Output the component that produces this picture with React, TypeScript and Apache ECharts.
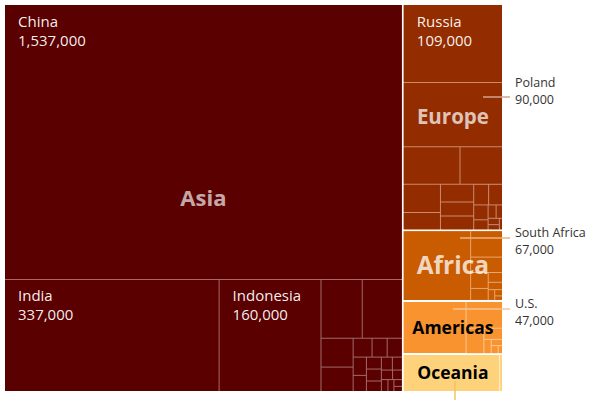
import { useEffect, useRef } from 'react'
import * as echarts from 'echarts'

// Coal mine workers by country, grouped by continent
const asiaCountries = ['China', 'India', 'Indonesia', 'Kazakhstan', 'Vietnam', 'Turkey', 'Mongolia', 'Pakistan', 'Uzbekistan', 'Bangladesh', 'Philippines', 'Kyrgyzstan', 'Thailand', 'Japan', 'Laos', 'Iran', 'Tajikistan', 'South Korea', 'Myanmar', 'Malaysia', 'Afghanistan', 'Georgia', 'Nepal']
const asiaWorkers = [1537000, 337000, 160000, 34000, 33000, 13000, 11000, 5000, 4000, 4000, 3400, 3000, 2500, 2500, 2200, 2000, 1800, 1500, 1300, 1100, 1000, 800, 600]

const europeCountries = ['Russia', 'Poland', 'Ukraine', 'Germany', 'Czechia', 'Serbia', 'Bosnia and Herzegovina', 'Romania', 'Bulgaria', 'Greece', 'Kosovo', 'Hungary', 'Slovakia', 'North Macedonia', 'Montenegro', 'Spain', 'United Kingdom', 'Slovenia']
const europeWorkers = [109000, 90000, 30000, 22500, 14700, 8900, 8200, 6500, 6400, 4300, 4000, 3000, 2000, 1500, 1200, 1000, 800, 500]

const africaCountries = ['South Africa', 'Zimbabwe', 'Mozambique', 'Botswana', 'Tanzania', 'Nigeria', 'Zambia', 'Madagascar', 'Malawi', 'Niger']
const africaWorkers = [67000, 12000, 7000, 4000, 3000, 2000, 1500, 1000, 700, 500]

const americasCountries = ['U.S.', 'Colombia', 'Canada', 'Mexico', 'Brazil', 'Argentina', 'Chile', 'Venezuela']
const americasWorkers = [47000, 14000, 6500, 3000, 1500, 1000, 800, 500]

const oceaniaCountries = ['Australia', 'New Zealand']
const oceaniaWorkers = [50000, 1500]

const labelledCountries = ['China', 'India', 'Indonesia', 'Russia']

const FONT = '"Open Sans", "Noto Sans", sans-serif'
const X0 = 5
const Y0 = 5
const W = 497
const H = 386

// bands: indexes where a new horizontal band of the block starts
const continents = [
  { name: 'Asia', countries: asiaCountries, values: asiaWorkers, bands: [1], ratios: [1, 1], color: '#5a0000', line: '#a26a6a', text: 'rgba(255,255,255,0.68)', size: 22 },
  { name: 'Europe', countries: europeCountries, values: europeWorkers, bands: [4], ratios: [1, 1.618], color: '#932d00', line: '#c98a70', text: 'rgba(255,255,255,0.72)', size: 20.5 },
  { name: 'Africa', countries: africaCountries, values: africaWorkers, bands: [], ratios: [1], color: '#c95b00', line: '#e8a66c', text: 'rgba(255,255,255,0.75)', size: 24.5 },
  { name: 'Americas', countries: americasCountries, values: americasWorkers, bands: [], ratios: [1], color: '#f8932f', line: '#fcc890', text: '#000', size: 17.5 },
  { name: 'Oceania', countries: oceaniaCountries, values: oceaniaWorkers, bands: [], ratios: [1], color: '#fed27a', line: '#fff1cc', text: '#000', size: 17.5 },
]

const callouts = [
  { name: 'Poland', from: [483, 97], to: [510, 97], textY: 75, color: '#d3a291' },
  { name: 'South Africa', from: [460, 238], to: [510, 238], textY: 225, color: '#ebb07e' },
  { name: 'U.S.', from: [453, 309], to: [510, 309], textY: 296, color: '#f5c496' },
]

const fmt = (v: number) => v.toLocaleString('en-US')
const sum = (a: number[]) => a.reduce((s, v) => s + v, 0)
const lookup = (name: string) => {
  for (const c of continents) {
    const i = c.countries.indexOf(name)
    if (i >= 0) return c.values[i]
  }
  return 0
}

type Box = { x: number; y: number; w: number; h: number }
type Continent = typeof continents[0]

export default function App() {
  const chartRef = useRef<HTMLDivElement>(null)

  useEffect(() => {
    if (!chartRef.current) return
    const chart = echarts.init(chartRef.current, null, { renderer: 'svg' })

    // Block sizes follow the totals: Asia on the left, the rest stacked on the right
    const totals = continents.map(c => sum(c.values))
    const total = sum(totals)
    const asiaW = W * totals[0] / total
    const rightTotal = total - totals[0]
    const boxes: Box[] = [{ x: X0, y: Y0, w: asiaW - 1, h: H }]
    let y = Y0
    continents.slice(1).forEach((c, i) => {
      const h = H * totals[i + 1] / rightTotal
      const top = i === 0 ? 0 : 1
      const bottom = i === continents.length - 2 ? 0 : 1
      boxes.push({ x: X0 + asiaW + 1, y: y + top, w: W - asiaW - 1, h: h - top - bottom })
      y += h
    })

    const treemap = (box: Box, c: Continent, names: string[], values: number[], ratio: number) => ({
      type: 'treemap',
      left: box.x,
      top: box.y,
      width: box.w,
      height: box.h,
      roam: false,
      nodeClick: false,
      silent: true,
      squareRatio: ratio,
      color: [c.color],
      breadcrumb: { show: false },
      upperLabel: { show: false },
      label: {
        show: false,
        position: [13, 6],
        padding: 0,
        distance: 0,
        color: 'rgba(255,255,255,0.95)',
        fontFamily: FONT,
        fontSize: 15,
        lineHeight: 19,
        formatter: (p: any) => `${p.name}\n${fmt(p.value)}`
      },
      levels: [
        { itemStyle: { borderColor: c.line, borderWidth: 0, gapWidth: 1 } },
        { itemStyle: { color: c.color, borderWidth: 0, gapWidth: 1, borderColor: c.line } }
      ],
      emphasis: { disabled: true },
      data: names.map((n, i) => ({
        name: n,
        value: values[i],
        itemStyle: { color: c.color },
        label: labelledCountries.includes(n) ? { show: true } : undefined
      }))
    })

    const series: any[] = []
    const graphic: any[] = []
    continents.forEach((c, i) => {
      const b = boxes[i]
      graphic.push({
        type: 'rect',
        z: 0,
        silent: true,
        shape: { x: b.x, y: b.y, width: b.w, height: b.h },
        style: { fill: c.line }
      })
      const cuts = [0, ...c.bands, c.values.length]
      let yy = b.y
      for (let k = 0; k < cuts.length - 1; k++) {
        const names = c.countries.slice(cuts[k], cuts[k + 1])
        const vals = c.values.slice(cuts[k], cuts[k + 1])
        const h = b.h * sum(vals) / totals[i]
        const top = k === 0 ? 0 : 0.5
        const bottom = k === cuts.length - 2 ? 0 : 0.5
        series.push(treemap({ x: b.x, y: yy + top, w: b.w, h: h - top - bottom }, c, names, vals, c.ratios[k]))
        yy += h
      }
      graphic.push({
        type: 'text',
        z: 10,
        silent: true,
        x: b.x + b.w / 2,
        y: b.y + b.h / 2 - 1,
        style: {
          text: c.name,
          fill: c.text,
          fontFamily: FONT,
          fontWeight: 'bold',
          fontSize: c.size,
          align: 'center',
          verticalAlign: 'middle'
        }
      })
    })

    callouts.forEach(co => {
      graphic.push({
        type: 'line',
        z: 10,
        silent: true,
        shape: { x1: co.from[0], y1: co.from[1], x2: co.to[0], y2: co.to[1] },
        style: { stroke: co.color, lineWidth: 1.5 }
      })
      const lines = [co.name, fmt(lookup(co.name))]
      lines.forEach((t, k) => {
        graphic.push({
          type: 'text',
          z: 10,
          silent: true,
          x: 515,
          y: co.textY + k * 17,
          style: {
            text: t,
            fill: '#333',
            fontFamily: FONT,
            fontSize: 12.5,
            lineHeight: 15,
            align: 'left',
            verticalAlign: 'top'
          }
        })
      })
    })
    // Australia's pointer runs off the bottom edge
    graphic.push({
      type: 'line',
      z: 10,
      silent: true,
      shape: { x1: 455, y1: 381, x2: 455, y2: 400 },
      style: { stroke: '#f2c462', lineWidth: 1.5 }
    })

    chart.setOption({
      animation: false,
      tooltip: { show: false },
      series,
      graphic
    })

    return () => {
      chart.dispose()
    }
  }, [])

  return <div ref={chartRef} style={{ position: 'absolute', left: 0, top: 0, width: '600px', height: '400px' }} />
}
